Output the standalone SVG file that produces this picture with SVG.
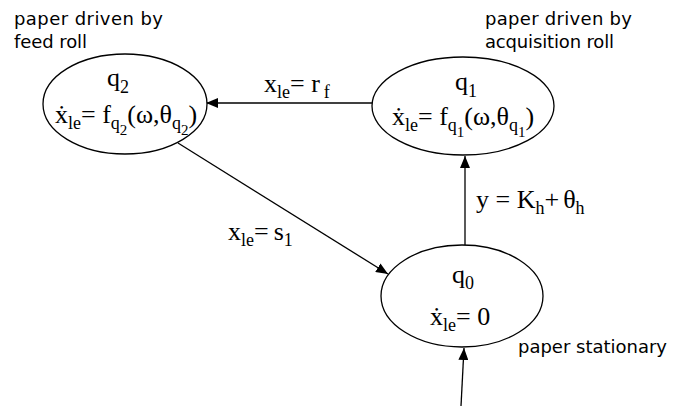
<svg xmlns="http://www.w3.org/2000/svg" width="684" height="406" viewBox="0 0 684 406">
<style>
.node{fill:#fff;stroke:#000;stroke-width:1.3}
.edge{fill:none;stroke:#000;stroke-width:1.3}
.m{font-family:"Liberation Serif","Times New Roman",serif;font-size:26px;fill:#000}
.s{font-size:18px}
.ss{font-size:15px}
.ann{font-family:"DejaVu Sans","Liberation Sans",sans-serif;font-size:18px;fill:#000}
</style>
<defs>
<marker id="ah" markerWidth="12" markerHeight="10" refX="12" refY="5" orient="auto" markerUnits="userSpaceOnUse">
<path d="M0,0 L12,5 L0,10 Z" fill="#000"/>
</marker>
</defs>
<g id="edges">
<line class="edge" x1="372" y1="103" x2="206" y2="103" marker-end="url(#ah)"/>
<line class="edge" x1="465" y1="245" x2="465" y2="156" marker-end="url(#ah)"/>
<line class="edge" x1="178" y1="143" x2="388" y2="274" marker-end="url(#ah)"/>
<line class="edge" x1="461" y1="406" x2="464" y2="348" marker-end="url(#ah)"/>
<text class="m" x="264" y="92">x<tspan class="s" dy="6">le</tspan><tspan dy="-6">= r</tspan><tspan class="s" dx="4" dy="6">f</tspan></text>
<text class="m" x="476" y="208">y = K<tspan class="s" dy="6">h</tspan><tspan dy="-6">+</tspan><tspan dx="4">θ</tspan><tspan class="s" dy="6">h</tspan></text>
<text class="m" x="228" y="240">x<tspan class="s" dy="6">le</tspan><tspan dy="-6">=</tspan><tspan dx="5">s</tspan><tspan class="s" dy="6">1</tspan></text>
</g>
<g id="q2">
<ellipse class="node" cx="125" cy="104" rx="82" ry="50"/>
<text class="m" x="107" y="86">q<tspan class="s" dy="7">2</tspan></text>
<text class="m" x="55" y="123">ẋ<tspan class="s" dy="6">le</tspan><tspan dy="-6">= f</tspan><tspan class="s" dy="6">q</tspan><tspan class="ss" dy="6">2</tspan><tspan dy="-12">(ω,θ</tspan><tspan class="s" dy="6">q</tspan><tspan class="ss" dy="6">2</tspan><tspan dy="-12">)</tspan></text>
<text class="ann" x="14" y="25" textLength="149">paper driven by</text>
<text class="ann" x="14" y="48" textLength="73">feed roll</text>
</g>
<g id="q1">
<ellipse class="node" cx="463" cy="106" rx="91" ry="49"/>
<text class="m" x="455" y="90">q<tspan class="s" dy="7">1</tspan></text>
<text class="m" x="392" y="125">ẋ<tspan class="s" dy="6">le</tspan><tspan dy="-6">= f</tspan><tspan class="s" dy="6">q</tspan><tspan class="ss" dy="6">1</tspan><tspan dy="-12">(ω,θ</tspan><tspan class="s" dy="6">q</tspan><tspan class="ss" dy="6">1</tspan><tspan dy="-12">)</tspan></text>
<text class="ann" x="485" y="25" textLength="147">paper driven by</text>
<text class="ann" x="485" y="48" textLength="129">acquisition roll</text>
</g>
<g id="q0">
<ellipse class="node" cx="462" cy="296" rx="81" ry="51"/>
<text class="m" x="452" y="283">q<tspan class="s" dy="6">0</tspan></text>
<text class="m" x="430" y="325">ẋ<tspan class="s" dy="6">le</tspan><tspan dy="-6">= 0</tspan></text>
<text class="ann" x="518" y="353" textLength="149">paper stationary</text>
</g>
</svg>
